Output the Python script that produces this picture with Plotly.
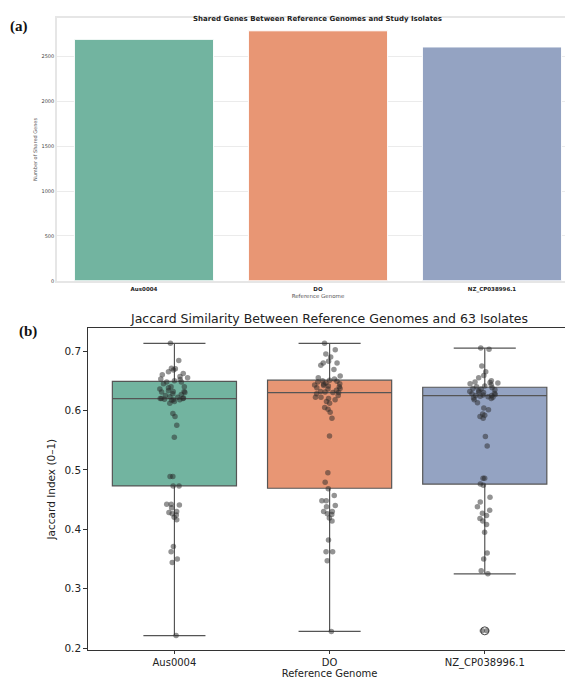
import plotly.graph_objects as go

genomes = ["Aus0004", "DO", "NZ_CP038996.1"]
shared_genes = [2690, 2785, 2605]
colors = ["#72b4a0", "#e89674", "#94a3c2"]

aus = [0.713, 0.684, 0.671, 0.670, 0.668, 0.665, 0.662, 0.660, 0.657, 0.655, 0.653, 0.652, 0.650,
       0.648, 0.648, 0.640, 0.640, 0.633, 0.632, 0.632, 0.631, 0.630, 0.628, 0.622, 0.621, 0.620,
       0.620, 0.620, 0.619, 0.618, 0.618, 0.615, 0.612, 0.595, 0.590, 0.575, 0.555, 0.489, 0.489,
       0.473, 0.473, 0.442, 0.442, 0.441, 0.436, 0.430, 0.428, 0.426, 0.424, 0.420, 0.416, 0.371,
       0.362, 0.350, 0.344, 0.221, 0.645, 0.638, 0.625, 0.623, 0.617, 0.636, 0.627]
do = [0.713, 0.702, 0.695, 0.690, 0.683, 0.680, 0.680, 0.676, 0.669, 0.658, 0.655, 0.653, 0.651,
      0.650, 0.648, 0.646, 0.645, 0.644, 0.643, 0.641, 0.640, 0.638, 0.636, 0.632, 0.631, 0.630,
      0.630, 0.625, 0.622, 0.622, 0.618, 0.615, 0.612, 0.605, 0.602, 0.597, 0.587, 0.557, 0.495,
      0.479, 0.468, 0.457, 0.448, 0.448, 0.440, 0.438, 0.430, 0.430, 0.426, 0.425, 0.419, 0.414,
      0.382, 0.362, 0.362, 0.347, 0.228, 0.649, 0.642, 0.637, 0.628, 0.620, 0.634]
nz = [0.705, 0.703, 0.675, 0.665, 0.659, 0.655, 0.650, 0.648, 0.647, 0.645, 0.643, 0.640, 0.638,
      0.637, 0.636, 0.633, 0.630, 0.628, 0.627, 0.626, 0.625, 0.625, 0.623, 0.620, 0.618, 0.613,
      0.604, 0.601, 0.594, 0.592, 0.590, 0.587, 0.556, 0.540, 0.486, 0.486, 0.476, 0.474, 0.454,
      0.446, 0.438, 0.432, 0.427, 0.423, 0.418, 0.414, 0.408, 0.395, 0.360, 0.350, 0.330, 0.325,
      0.229, 0.229, 0.635, 0.632, 0.629, 0.624, 0.622, 0.621, 0.641, 0.646, 0.631]
jaccard = [aus, do, nz]

q1 = [0.473, 0.469, 0.476]
median = [0.620, 0.630, 0.625]
q3 = [0.649, 0.651, 0.639]
lower_whisker = [0.221, 0.228, 0.325]
upper_whisker = [0.713, 0.713, 0.705]
outlier_genome = ["NZ_CP038996.1"]
outlier_value = [0.229]

fig = go.Figure()

fig.add_trace(go.Bar(x=genomes, y=shared_genes, marker=dict(color=colors, line=dict(color="white", width=1)),
                     width=0.8, xaxis="x", yaxis="y", showlegend=False))

for i, g in enumerate(genomes):
    fig.add_trace(go.Box(x=[g], q1=[q1[i]], median=[median[i]], q3=[q3[i]],
                         lowerfence=[lower_whisker[i]], upperfence=[upper_whisker[i]],
                         fillcolor=colors[i], line=dict(color="#555555", width=1.2),
                         width=0.8, whiskerwidth=0.5, boxpoints=False,
                         xaxis="x2", yaxis="y2", showlegend=False, hoverinfo="skip"))
for i, g in enumerate(genomes):
    fig.add_trace(go.Box(x=[g] * len(jaccard[i]), y=jaccard[i], boxpoints="all", jitter=0.4, pointpos=0,
                         fillcolor="rgba(0,0,0,0)", line=dict(color="rgba(0,0,0,0)", width=0),
                         marker=dict(color="rgba(40,40,40,0.5)", size=5.5),
                         xaxis="x2", yaxis="y2", showlegend=False))
fig.add_trace(go.Scatter(x=outlier_genome, y=outlier_value, mode="markers",
                         marker=dict(symbol="circle-open", color="#444444", size=8, line=dict(width=1)),
                         xaxis="x2", yaxis="y2", showlegend=False))

tf_small = dict(family="DejaVu Sans", size=5, color="#444444")
fig.update_layout(
    width=573, height=685, margin=dict(l=0, r=0, t=0, b=0),
    plot_bgcolor="white", paper_bgcolor="white", boxmode="overlay",
    xaxis=dict(domain=[0.0855, 0.9965], anchor="y", showgrid=False,
               tickfont=dict(family="DejaVu Sans", size=5.5, color="#222222"),
               ticklabelstandoff=2,
               showline=True, linecolor="#e6e6e6", linewidth=1.5, mirror=True,
               tickprefix="<b>", ticksuffix="</b>",
               title=dict(text="Reference Genome", font=dict(family="DejaVu Sans", size=5.5, color="#555555"), standoff=2)),
    yaxis=dict(domain=[0.6, 0.985], anchor="x", range=[0, 2925], tickvals=[0, 500, 1000, 1500, 2000, 2500],
               gridcolor="#ebebeb", gridwidth=1, tickfont=tf_small, zeroline=False,
               showline=True, linecolor="#e6e6e6", linewidth=1.5, mirror=True,
               title=dict(text="Number of Shared Genes", font=dict(family="DejaVu Sans", size=5, color="#555555"), standoff=4)),
    xaxis2=dict(domain=[0.14, 0.9825], anchor="y2", showgrid=False,
                tickfont=dict(family="DejaVu Sans", size=10, color="#222222"),
                ticks="outside", ticklen=3, tickcolor="#333333",
                showline=True, linecolor="#333333", linewidth=1, mirror=True,
                title=dict(text="Reference Genome", font=dict(family="DejaVu Sans", size=10, color="#222222"), standoff=0)),
    yaxis2=dict(domain=[0.058, 0.531], anchor="x2", range=[0.196, 0.739], tickvals=[0.2, 0.3, 0.4, 0.5, 0.6, 0.7],
                showgrid=False, zeroline=False, tickfont=dict(family="DejaVu Sans", size=10.5, color="#222222"),
                ticks="outside", ticklen=4, tickcolor="#333333",
                showline=True, linecolor="#333333", linewidth=1, mirror=True,
                title=dict(text="Jaccard Index (0–1)", font=dict(family="DejaVu Sans", size=10.5, color="#222222"), standoff=6)),
    annotations=[
        dict(text="<b>Shared Genes Between Reference Genomes and Study Isolates</b>", x=0.541, y=1 - 5 / 685,
             xref="paper", yref="paper", showarrow=False, font=dict(family="DejaVu Sans", size=7, color="#222222")),
        dict(text="<b>(a)</b>", x=0.0, y=1 - 8 / 685, xref="paper", yref="paper", xanchor="left", showarrow=False,
             font=dict(family="Liberation Serif", size=15, color="#111111")),
        dict(text="Jaccard Similarity Between Reference Genomes and 63 Isolates", x=0.561, y=1 - 312 / 685,
             xref="paper", yref="paper", showarrow=False, font=dict(family="DejaVu Sans", size=12.5, color="#222222")),
        dict(text="<b>(b)</b>", x=0.015, y=1 - 325 / 685, xref="paper", yref="paper", xanchor="left", showarrow=False,
             font=dict(family="Liberation Serif", size=15, color="#111111")),
    ],
)

fig.write_html("out.html")
